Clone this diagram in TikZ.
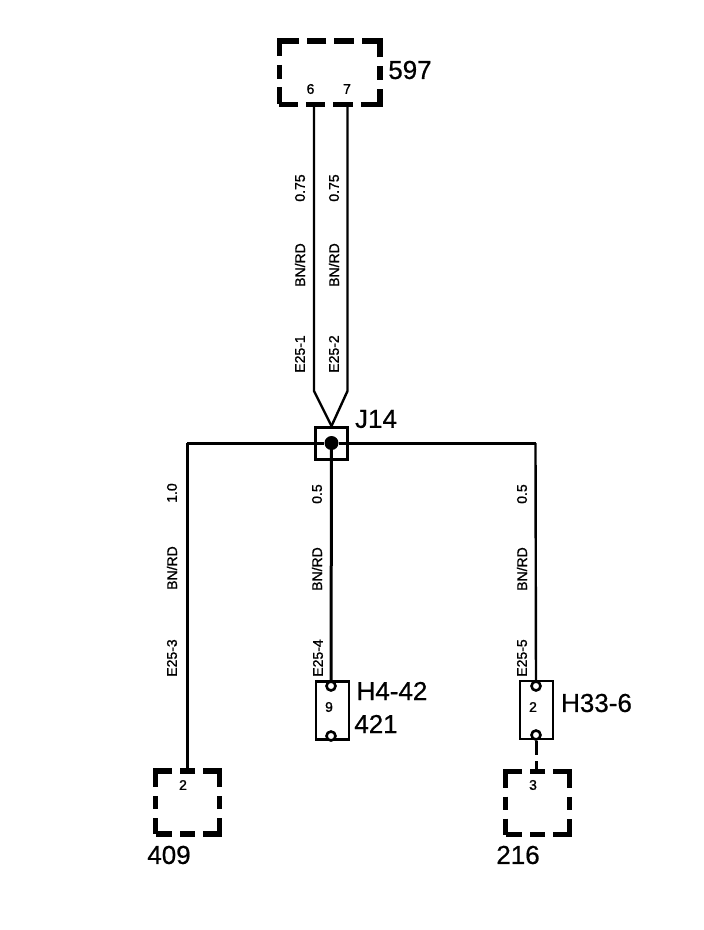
\documentclass[tikz,border=0pt]{standalone}
\usepackage{fontspec}
\setmainfont{Liberation Sans}
\newfontfamily\heavyfont[FakeBold=1.2]{Liberation Sans}
\newfontfamily\midfont[FakeBold=0.6]{Liberation Sans}
\usetikzlibrary{shapes.geometric}
\tikzset{
  wire/.style={draw, line width=3pt},
  thinwire/.style={draw, line width=2.4pt},
  wirelabel/.style={rotate=90, font=\heavyfont\fontsize{14}{14}\selectfont, inner sep=0pt},
  pinlabel/.style={font=\heavyfont\fontsize{14}{14}\selectfont, inner sep=0pt},
  bigtext/.style={font=\midfont\fontsize{26}{26}\selectfont, inner sep=0pt},
  widebox/.style={draw, line width=5.5pt, rectangle, inner sep=0pt, minimum width=100.5pt, minimum height=63.5pt,
    dash pattern=on 34.5pt off 8pt on 19.5pt off 8pt on 19.5pt off 8pt on 34.5pt off 9pt on 14pt off 8.5pt, dash phase=16pt},
  smallbox/.style={draw, line width=5.5pt, rectangle, inner sep=0pt, minimum width=64pt, minimum height=63pt,
    dash pattern=on 32.5pt off 8pt on 15pt off 8pt on 32.5pt off 9pt on 13pt off 9pt, dash phase=16pt},
  connbox/.style={draw, line width=2.4pt, rectangle, inner sep=0pt, minimum width=33pt, minimum height=58pt},
  hole/.style={draw, line width=2.6pt, circle, fill=white, inner sep=0pt, minimum size=9pt}
}
\begin{document}
\begin{tikzpicture}[x=1pt, y=-1pt]
  \useasboundingbox (0,0) rectangle (704,930);

  \node[widebox] (b597) at (329.5,72.5) {};
  \node[smallbox] (b409) at (187.5,802.5) {};
  \node[smallbox] (b216) at (537.5,803) {};
  \node[connbox] (h442) at (332.5,710.5) {};
  \node[connbox] (h336) at (536.5,710) {};
  \node[draw, line width=3pt, rectangle, inner sep=0pt, minimum size=32pt] (j14) at (331.5,443.5) {};
  \node[fill, circle, inner sep=0pt, minimum size=14pt] (jdot) at (331.5,443) {};

  \coordinate (w6) at (314,104);
  \coordinate (w7) at (347.5,104);
  \coordinate (w6b) at (314,391);
  \coordinate (w7b) at (347.5,391);
  \coordinate (jtop) at (331.5,426);
  \coordinate (jleft) at (187,443);
  \coordinate (jright) at (535.5,443);
  \coordinate (gapa) at (536,755);
  \coordinate (gapb) at (536,761);

  \node[hole] (h442a) at (331,686) {};
  \node[hole] (h442b) at (331,736) {};
  \node[hole] (h336a) at (536,686) {};
  \node[hole] (h336b) at (536,735) {};

  \draw[thinwire] (w6) -- (w6b) -- (jtop);
  \draw[thinwire] (w7) -- (w7b) -- (jtop);
  \draw[wire] (jleft) -- (jdot);
  \draw[wire] (jdot) -- (jright);
  \draw[wire] (jleft) -- (jleft |- b409.north);
  \draw[wire] (jdot) -- (h442a);
  \draw[thinwire] (jright) -- (h336a);
  \draw[wire] (h336b) -- (gapa);
  \draw[wire] (gapb) -- (gapb |- b216.north);

  \node[wirelabel] (a1) at (300,188) {0.75};
  \node[wirelabel] (a2) at (300,265) {BN/RD};
  \node[wirelabel] (a3) at (300,354) {E25-1};
  \node[wirelabel] (b1) at (334,188) {0.75};
  \node[wirelabel] (b2) at (334,265) {BN/RD};
  \node[wirelabel] (b3) at (334,354) {E25-2};
  \node[wirelabel] (c1) at (172,493) {1.0};
  \node[wirelabel] (c2) at (172,568) {BN/RD};
  \node[wirelabel] (c3) at (172,658) {E25-3};
  \node[wirelabel] (d1) at (317,494) {0.5};
  \node[wirelabel] (d2) at (317,569) {BN/RD};
  \node[wirelabel] (d3) at (318,658) {E25-4};
  \node[wirelabel] (e1) at (522,494) {0.5};
  \node[wirelabel] (e2) at (522,569) {BN/RD};
  \node[wirelabel] (e3) at (522,658) {E25-5};

  \node[pinlabel] (p6) at (310.5,89) {6};
  \node[pinlabel] (p7) at (347,89) {7};
  \node[pinlabel] (p9) at (329,707) {9};
  \node[pinlabel] (p2a) at (533,707) {2};
  \node[pinlabel] (p3) at (533,785) {3};
  \node[pinlabel] (p2b) at (183,785) {2};

  \node[bigtext] (t597) at (410,70) {597};
  \node[bigtext] (tj14) at (376,419) {J14};
  \node[bigtext] (th442) at (392,691) {H4-42};
  \node[bigtext] (t421) at (376,724) {421};
  \node[bigtext] (th336) at (596.5,703) {H33-6};
  \node[bigtext] (t409) at (169,855) {409};
  \node[bigtext] (t216) at (518,855) {216};
\end{tikzpicture}
\end{document}
